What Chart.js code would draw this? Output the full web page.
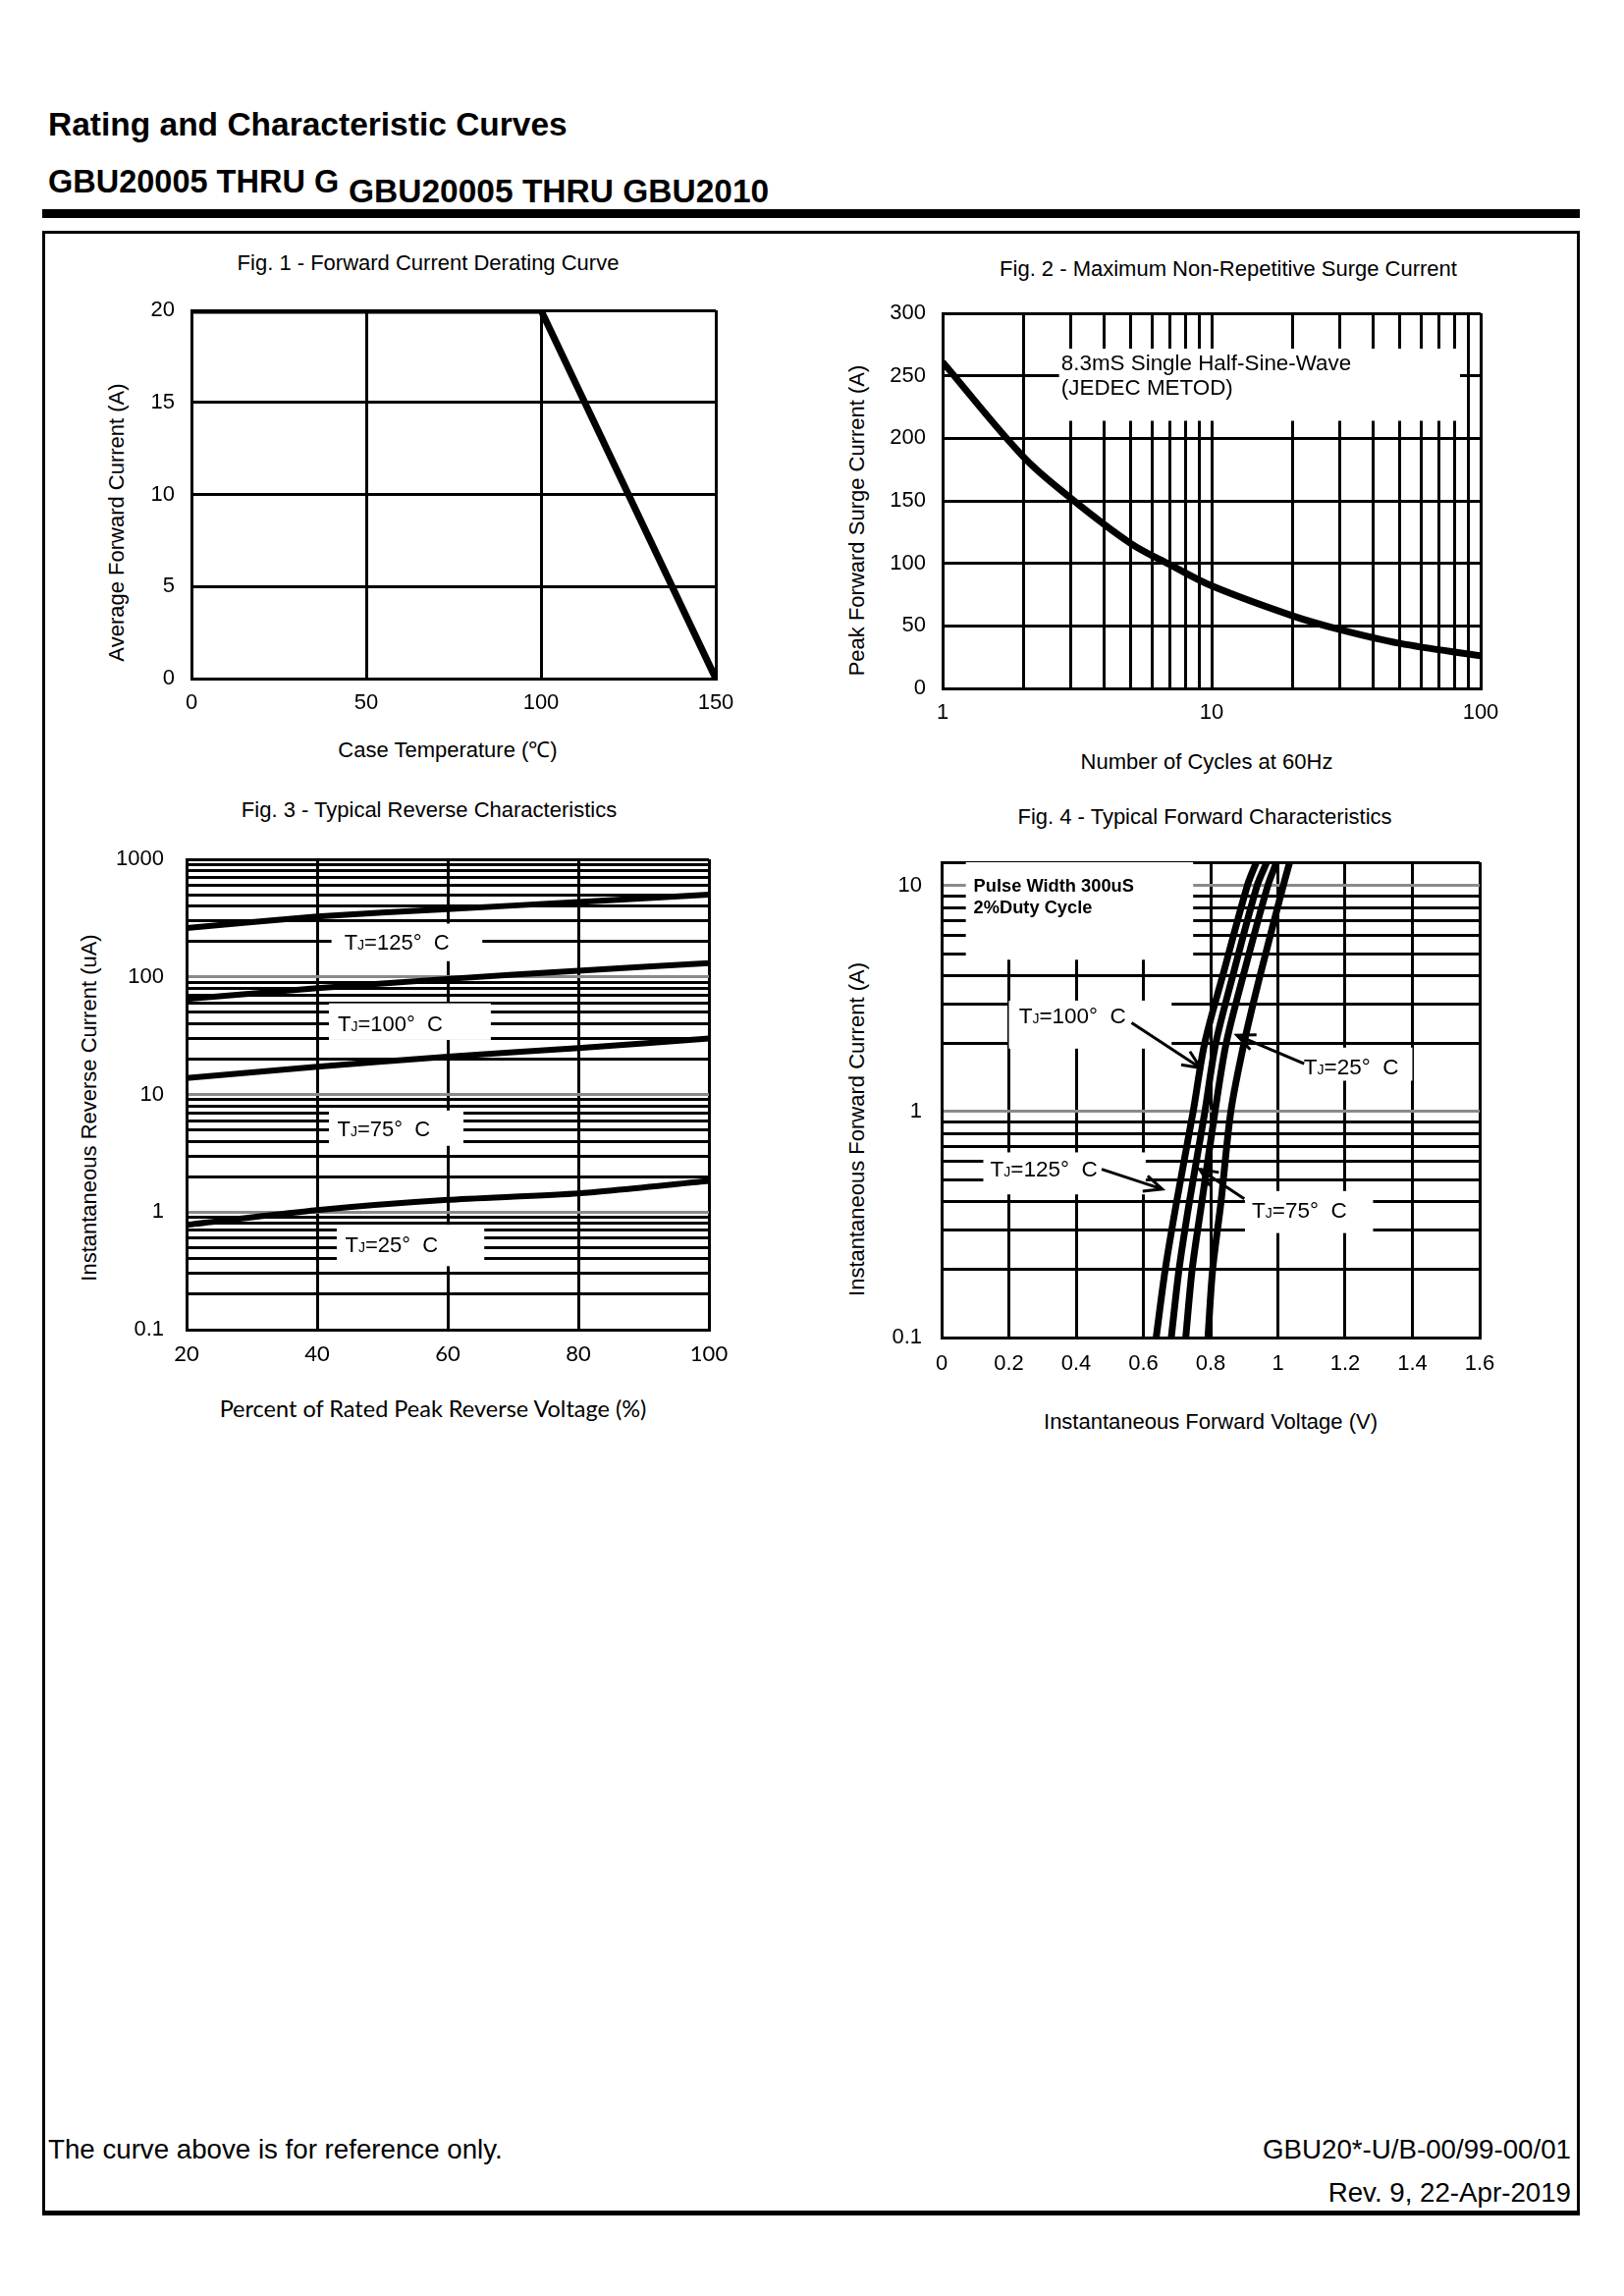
<!DOCTYPE html>
<html>
<head>
<meta charset="utf-8">
<title>GBU20005 THRU GBU2010 - Rating and Characteristic Curves</title>
<script src="https://cdn.jsdelivr.net/npm/chart.js@4.4.1/dist/chart.umd.min.js"></script>
<style>
  html, body { margin: 0; padding: 0; background: #fff; }
  #page { position: relative; width: 1654px; height: 2338px; overflow: hidden;
          font-family: 'Liberation Sans', Arial, sans-serif; color: #000; }
  .t { position: absolute; white-space: nowrap; line-height: 1; }
  .l { transform: translateY(-50%); }
  .c { transform: translate(-50%, -50%); }
  .v { transform: translate(-50%, -50%) rotate(-90deg); }
  .r { transform: translateY(-50%); text-align: right; }
  .ft { font-size: 22px; }
  canvas { position: absolute; }
  #bar { position: absolute; left: 43px; top: 213px; width: 1566px; height: 9px; background: #000; }
  #frame { position: absolute; left: 43px; top: 235px; width: 1566px; height: 2021px;
           box-sizing: border-box; border: 3px solid #000; border-bottom-width: 5px; }
</style>
</head>
<body>
<div id="page">
  <div class="t l" style="left:49px;top:127px;font-size:33.5px;font-weight:bold;">Rating and Characteristic Curves</div>
  <div class="t l" style="left:49px;top:185px;font-size:32.5px;font-weight:bold;">GBU20005 THRU G</div>
  <div class="t l" style="left:355px;top:195px;font-size:33.5px;font-weight:bold;">GBU20005 THRU GBU2010</div>
  <div id="bar"></div>
  <div id="frame"></div>

  <div class="t c ft" style="left:436px;top:268px;">Fig. 1 - Forward Current Derating Curve</div>
  <div class="t c ft" style="left:456px;top:764px;">Case Temperature (℃)</div>
  <div class="t v ft" style="left:119px;top:532px;">Average Forward Current (A)</div>

  <div class="t c ft" style="left:1251px;top:274px;">Fig. 2 - Maximum Non-Repetitive Surge Current</div>
  <div class="t c ft" style="left:1229px;top:776px;">Number of Cycles at 60Hz</div>
  <div class="t v ft" style="left:873px;top:530px;">Peak Forward Surge Current (A)</div>

  <div class="t c ft" style="left:437px;top:825px;">Fig. 3 - Typical Reverse Characteristics</div>
  <div class="t c" style="left:441px;top:1435px;font-size:23.5px;font-family:Lato, 'Liberation Sans', sans-serif;">Percent of Rated Peak Reverse Voltage (%)</div>
  <div class="t v ft" style="left:91px;top:1128px;">Instantaneous Reverse Current (uA)</div>

  <div class="t c ft" style="left:1227px;top:832px;">Fig. 4 - Typical Forward Characteristics</div>
  <div class="t c ft" style="left:1233px;top:1448px;">Instantaneous Forward Voltage (V)</div>
  <div class="t v ft" style="left:873px;top:1150px;">Instantaneous Forward Current (A)</div>

  <canvas id="fig1"></canvas>
  <canvas id="fig2"></canvas>
  <canvas id="fig3"></canvas>
  <canvas id="fig4"></canvas>

  <div class="t l" style="left:49px;top:2189px;font-size:27.7px;">The curve above is for reference only.</div>
  <div class="t r" style="right:54px;top:2189px;font-size:27.7px;">GBU20*-U/B-00/99-00/01</div>
  <div class="t r" style="right:54px;top:2233px;font-size:27.7px;">Rev. 9, 22-Apr-2019</div>
</div>

<script>
// ---- data ----

// Fig. 1 - derating
const fig1Temp = [0, 100, 150];
const fig1Current = [20, 20, 0];
const fig1XTicks = [0, 50, 100, 150];
const fig1YTicks = [0, 5, 10, 15, 20];

// Fig. 2 - surge current vs cycles
const fig2Cycles = [1, 2, 3, 5, 7, 10, 20, 30, 50, 100];
const fig2Surge = [261, 185, 152, 116, 99, 82, 58, 47, 36, 26];
const fig2XTicks = [1, 2, 3, 4, 5, 6, 7, 8, 9, 10, 20, 30, 40, 50, 60, 70, 80, 90, 100];
const fig2XLabels = [1, 10, 100];
const fig2YTicks = [0, 50, 100, 150, 200, 250, 300];

// Fig. 3 - reverse current (uA) vs % of rated voltage
const fig3Percent = [20, 40, 60, 80, 100];
const fig3Tj125 = [260, 326, 377, 433, 500];
const fig3Tj100 = [65, 80, 96, 113, 131];
const fig3Tj75 = [13.8, 17.2, 21, 24.8, 29.9];
const fig3Tj25 = [0.78, 1.04, 1.27, 1.44, 1.84];
const fig3YTicks = [0.1, 0.2, 0.3, 0.4, 0.5, 0.6, 0.7, 0.8, 0.9,
  1, 2, 3, 4, 5, 6, 7, 8, 9, 10, 20, 30, 40, 50, 60, 70, 80, 90,
  100, 200, 300, 400, 500, 600, 700, 800, 900, 1000];
const fig3YLabels = [0.1, 1, 10, 100, 1000];
const fig3GrayLines = [1, 10, 100];

// Fig. 4 - forward current (A) vs forward voltage (V)
const fig4Current = [0.1, 0.2, 0.4, 1, 2, 4, 10, 12.7];
const fig4Tj125 = [0.638, 0.665, 0.699, 0.748, 0.782, 0.836, 0.909, 0.936];
const fig4Tj100 = [0.683, 0.706, 0.737, 0.783, 0.815, 0.866, 0.938, 0.967];
const fig4Tj75 = [0.726, 0.745, 0.774, 0.813, 0.846, 0.897, 0.970, 0.996];
const fig4Tj25 = [0.792, 0.806, 0.831, 0.860, 0.899, 0.947, 1.016, 1.035];
const fig4XTicks = [0, 0.2, 0.4, 0.6, 0.8, 1, 1.2, 1.4, 1.6];
const fig4YTicks = [0.1, 0.2, 0.3, 0.4, 0.5, 0.6, 0.7, 0.8, 0.9,
  1, 2, 3, 4, 5, 6, 7, 8, 9, 10, 12.7];
const fig4YLabels = [0.1, 1, 10];
const fig4GrayLines = [1, 10];

// ---- layout / style ----
const BLACK = '#000';
const GRAY = '#8a8a8a';
const SANS = "'Liberation Sans', Arial, sans-serif";
const CALI = "Lato, 'Liberation Sans', sans-serif";

const plots = {
  fig1: { x0: 195, y0: 316, x1: 729, y1: 691 },
  fig2: { x0: 960, y0: 319, x1: 1508, y1: 701 },
  fig3: { x0: 190, y0: 875, x1: 722, y1: 1354 },
  fig4: { x0: 959, y0: 878, x1: 1507, y1: 1362 }
};
// top/right room is larger than Chart.js' own label overflow, so the plot area lands exactly
const margin = { left: 80, top: 45, right: 50, bottom: 50 };

function placeCanvas(id) {
  const p = plots[id];
  const cv = document.getElementById(id);
  const w = p.x1 - p.x0 + margin.left + margin.right;
  const h = p.y1 - p.y0 + margin.top + margin.bottom;
  cv.width = w; cv.height = h;
  cv.style.width = w + 'px'; cv.style.height = h + 'px';
  cv.style.left = (p.x0 - margin.left) + 'px';
  cv.style.top = (p.y0 - margin.top) + 'px';
  return cv;
}

function drawTj(ctx, cx, cy, temp, size, family) {
  const big = size + 'px ' + family;
  const small = Math.round(size * 0.62) + 'px ' + family;
  const rest = '=' + temp + '°  C';
  ctx.font = big;
  const wT = ctx.measureText('T').width;
  const wR = ctx.measureText(rest).width;
  ctx.font = small;
  const wJ = ctx.measureText('J').width;
  let x = cx - (wT + wJ + wR) / 2;
  const base = cy + size * 0.36;
  ctx.textAlign = 'left';
  ctx.textBaseline = 'alphabetic';
  ctx.font = big; ctx.fillText('T', x, base); x += wT;
  ctx.font = small; ctx.fillText('J', x, base); x += wJ;
  ctx.font = big; ctx.fillText(rest, x, base);
}

// white label boxes go under the curves, text and arrows on top
const notesPlugin = {
  id: 'sheetNotes',
  beforeDatasetsDraw(chart, args, opts) {
    const { ctx, scales } = chart;
    ctx.save();
    ctx.fillStyle = '#fff';
    for (const b of opts.boxes || []) {
      const xa = scales.x.getPixelForValue(b.x0), xb = scales.x.getPixelForValue(b.x1);
      const ya = scales.y.getPixelForValue(b.y0), yb = scales.y.getPixelForValue(b.y1);
      ctx.fillRect(Math.min(xa, xb), Math.min(ya, yb), Math.abs(xb - xa), Math.abs(yb - ya));
    }
    ctx.restore();
  },
  afterDatasetsDraw(chart, args, opts) {
    const { ctx, scales } = chart;
    const px = v => scales.x.getPixelForValue(v);
    const py = v => scales.y.getPixelForValue(v);
    ctx.save();
    ctx.fillStyle = BLACK;
    ctx.strokeStyle = BLACK;
    ctx.lineWidth = 3;
    for (const a of opts.arrows || []) {
      const x0 = px(a.x0), y0 = py(a.y0), x1 = px(a.x1), y1 = py(a.y1);
      const ang = Math.atan2(y1 - y0, x1 - x0);
      ctx.beginPath();
      ctx.moveTo(x0, y0);
      ctx.lineTo(x1, y1);
      ctx.moveTo(x1 - 20 * Math.cos(ang - 0.42), y1 - 20 * Math.sin(ang - 0.42));
      ctx.lineTo(x1, y1);
      ctx.lineTo(x1 - 20 * Math.cos(ang + 0.42), y1 - 20 * Math.sin(ang + 0.42));
      ctx.stroke();
    }
    for (const t of opts.texts || []) {
      ctx.font = t.font;
      ctx.textAlign = 'left';
      ctx.textBaseline = 'middle';
      ctx.fillText(t.text, px(t.x), py(t.y));
    }
    for (const t of opts.tj || []) {
      drawTj(ctx, px(t.x), py(t.y), t.temp, opts.tjSize || 22, SANS);
    }
    ctx.restore();
  }
};

function axis(type, min, max, tickValues, labelValues, opts) {
  const o = opts || {};
  const gray = o.grayLines || [];
  return {
    type: type, min: min, max: max,
    afterBuildTicks: s => { s.ticks = tickValues.map(v => ({ value: v })); },
    afterFit: s => {
      if (s.isHorizontal()) s.height = margin.bottom;
      else s.width = margin.left;
    },
    ticks: {
      autoSkip: false, maxRotation: 0, minRotation: 0,
      padding: o.padding, color: BLACK,
      font: { family: o.family || SANS, size: o.size || 22 },
      callback: v => labelValues.includes(v) ? String(v) : ''
    },
    grid: {
      drawTicks: false, lineWidth: 3,
      color: ctx => (ctx.tick && gray.includes(ctx.tick.value)) ? GRAY : BLACK
    },
    border: { display: true, color: BLACK, width: 3 }
  };
}

function baseOptions(scales, notes) {
  return {
    responsive: false, animation: false, devicePixelRatio: 1, events: [],
    layout: { padding: { left: 0, top: margin.top, right: margin.right, bottom: 0 } },
    elements: { point: { radius: 0 } },
    plugins: { legend: { display: false }, tooltip: { enabled: false }, sheetNotes: notes || {} },
    scales: scales
  };
}

function curve(xs, ys, width, tension) {
  return {
    data: xs.map((x, i) => ({ x: x, y: ys[i] })),
    borderColor: BLACK, borderWidth: width, fill: false,
    tension: tension, pointRadius: 0, borderCapStyle: 'butt', borderJoinStyle: 'round'
  };
}

// Fig. 1
new Chart(placeCanvas('fig1'), {
  type: 'line',
  data: { datasets: [curve(fig1Temp, fig1Current, 7, 0)] },
  options: baseOptions({
    x: axis('linear', 0, 150, fig1XTicks, fig1XTicks, { padding: 12 }),
    y: axis('linear', 0, 20, fig1YTicks, fig1YTicks, { padding: 17 })
  }),
  plugins: [notesPlugin]
});

// Fig. 2
new Chart(placeCanvas('fig2'), {
  type: 'line',
  data: { datasets: [curve(fig2Cycles, fig2Surge, 7, 0.35)] },
  options: baseOptions({
    x: axis('logarithmic', 1, 100, fig2XTicks, fig2XLabels, { padding: 12 }),
    y: axis('linear', 0, 300, fig2YTicks, fig2YTicks, { padding: 17 })
  }, {
    boxes: [{ x0: 2.71, x1: 83.8, y0: 214, y1: 271.7 }],
    texts: [
      { text: '8.3mS Single Half-Sine-Wave', x: 2.76, y: 259, font: '22.4px ' + SANS },
      { text: '(JEDEC METOD)', x: 2.76, y: 239.5, font: '22.4px ' + SANS }
    ]
  }),
  plugins: [notesPlugin]
});

// Fig. 3
new Chart(placeCanvas('fig3'), {
  type: 'line',
  data: { datasets: [
    curve(fig3Percent, fig3Tj125, 6, 0.2),
    curve(fig3Percent, fig3Tj100, 6, 0.2),
    curve(fig3Percent, fig3Tj75, 6, 0.2),
    curve(fig3Percent, fig3Tj25, 6, 0.2)
  ] },
  options: baseOptions({
    x: axis('linear', 20, 100, fig3Percent, fig3Percent, { padding: 12, family: CALI, size: 22 }),
    y: axis('logarithmic', 0.1, 1000, fig3YTicks, fig3YLabels, { padding: 23, grayLines: fig3GrayLines })
  }, {
    boxes: [
      { x0: 42.2, x1: 65.3, y0: 136, y1: 284 },
      { x0: 41.8, x1: 66.6, y0: 29.1, y1: 59.6 },
      { x0: 41.8, x1: 62.4, y0: 3.66, y1: 7.31 },
      { x0: 43.0, x1: 65.6, y0: 0.347, y1: 0.78 }
    ],
    tjSize: 22,
    tj: [
      { temp: '125', x: 52.2, y: 197 },
      { temp: '100', x: 51.2, y: 40.3 },
      { temp: '75', x: 50.2, y: 5.15 },
      { temp: '25', x: 51.4, y: 0.533 }
    ]
  }),
  plugins: [notesPlugin]
});

// Fig. 4
new Chart(placeCanvas('fig4'), {
  type: 'line',
  data: { datasets: [
    curve(fig4Tj125, fig4Current, 7, 0.3),
    curve(fig4Tj100, fig4Current, 7, 0.3),
    curve(fig4Tj75, fig4Current, 7, 0.3),
    curve(fig4Tj25, fig4Current, 7, 0.3)
  ] },
  options: baseOptions({
    x: axis('linear', 0, 1.6, fig4XTicks, fig4XTicks, { padding: 14 }),
    y: axis('logarithmic', 0.1, 12.7, fig4YTicks, fig4YLabels, { padding: 20, grayLines: fig4GrayLines })
  }, {
    boxes: [
      { x0: 0.072, x1: 0.748, y0: 4.7, y1: 12.7 },
      { x0: 0.2, x1: 0.684, y0: 1.9, y1: 3.1 },
      { x0: 1.06, x1: 1.40, y0: 1.37, y1: 1.92 },
      { x0: 0.124, x1: 0.607, y0: 0.43, y1: 0.66 },
      { x0: 0.902, x1: 1.283, y0: 0.29, y1: 0.445 }
    ],
    texts: [
      { text: 'Pulse Width 300uS', x: 0.095, y: 9.88, font: 'bold 18.3px ' + SANS },
      { text: '2%Duty Cycle', x: 0.095, y: 7.94, font: 'bold 18.3px ' + SANS }
    ],
    arrows: [
      { x0: 0.565, y0: 2.47, x1: 0.770, y1: 1.56 },
      { x0: 1.078, y0: 1.63, x1: 0.878, y1: 2.18 },
      { x0: 0.476, y0: 0.556, x1: 0.656, y1: 0.454 },
      { x0: 0.900, y0: 0.411, x1: 0.767, y1: 0.556 }
    ],
    tjSize: 22.5,
    tj: [
      { temp: '100', x: 0.389, y: 2.66 },
      { temp: '25', x: 1.218, y: 1.58 },
      { temp: '125', x: 0.304, y: 0.561 },
      { temp: '75', x: 1.064, y: 0.368 }
    ]
  }),
  plugins: [notesPlugin]
});
</script>
</body>
</html>
